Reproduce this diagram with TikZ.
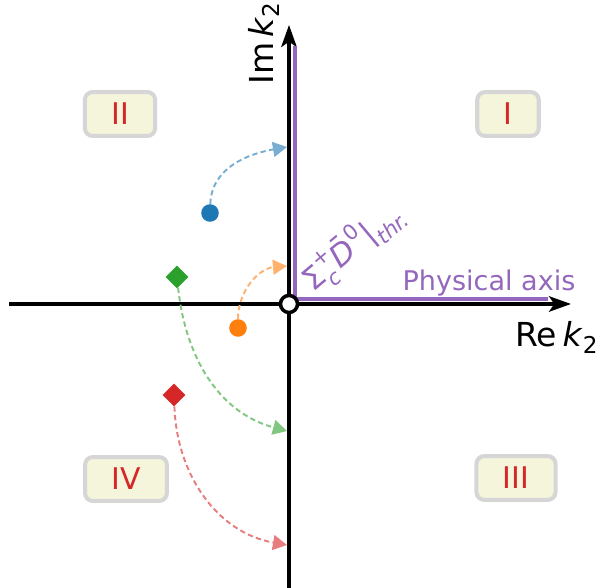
\documentclass[tikz,border=0pt]{standalone}
\usepackage{fontspec}
\setmainfont{DejaVu Sans}
\usetikzlibrary{arrows.meta, shapes.geometric}
\definecolor{cblue}{HTML}{1F77B4}
\definecolor{corange}{HTML}{FF7F0E}
\definecolor{cgreen}{HTML}{2CA02C}
\definecolor{cred}{HTML}{D62728}
\definecolor{cpurple}{HTML}{9467BD}
\definecolor{boxfill}{HTML}{F5F5DC}
\definecolor{boxedge}{HTML}{D6D6D6}
\newcommand{\axlw}{2pt}
\newcommand{\bigfont}{\fontsize{18.8}{22}\selectfont}
\newcommand{\midfont}{\fontsize{15.4}{18}\selectfont}
\newcommand{\tsup}[1]{\raisebox{0.48em}{\fontsize{12}{13}\selectfont #1}}
\newcommand{\tsub}[1]{\raisebox{-0.3em}{\fontsize{12}{13}\selectfont #1}}
\tikzset{
  axisline/.style={line width=\axlw,
    -{Stealth[length=12.5pt, width=8.8pt, inset=3pt]}},
  physline/.style={cpurple, line width=2pt},
  region/.style={
    draw=boxedge, fill=boxfill, line width=2.3pt, rounded corners=4.5pt,
    text=cred, font=\fontsize{17}{20}\selectfont,
    inner xsep=15pt, inner ysep=2pt, minimum height=25pt
  },
  dot/.style={circle, fill=#1, inner sep=0pt, minimum size=10pt},
  gem/.style={diamond, fill=#1, inner sep=0pt, minimum size=13pt},
  flow/.style={
    #1!60, line width=1.1pt, dash pattern=on 3pt off 1.9pt,
    -{Triangle[length=8pt, width=8.5pt]}
  }
}

\begin{document}
\begin{tikzpicture}[x=0.02cm, y=0.02cm]
  \useasboundingbox (0,0) rectangle (600,588);
  % axes
  \coordinate (west) at (9,284);
  \coordinate (east) at (571,284);
  \coordinate (south) at (289,0);
  \coordinate (north) at (289,563);
  \draw[axisline] (west) -- (east);
  \draw[axisline] (south) -- (north);
  % physical sheet boundary
  \coordinate (ptop) at (295,542);
  \coordinate (pcorner) at (295,289);
  \coordinate (pend) at (548,289);
  \draw[physline] (ptop) -- (pcorner) -- (pend);
  \node[circle, draw, fill=white, line width=\axlw, inner sep=0pt,
        minimum size=9.7pt] (orig) at (289,284) {};
  % labels
  \node[anchor=base west, inner sep=0pt, font=\bigfont] (relab) at (515,241)
    {Re\,\textit{k}\textsubscript{2}};
  \node[anchor=base west, inner sep=0pt, rotate=90, font=\bigfont] (imlab)
    at (273,503) {Im\,\textit{k}\textsubscript{2}};
  \node[anchor=base, inner sep=0pt, text=cpurple, font=\midfont] (physlab)
    at (489,297) {Physical axis};
  \node[anchor=base west, inner sep=0pt, rotate=40, text=cpurple,
        font=\fontsize{17.5}{20}\selectfont] (thrlab) at (313,295)
    {Σ\rlap{\tsup{+}}\tsub{\itshape c}\,\textit{D̄}\tsup{0}|\tsub{\itshape thr.}};
  % sheets
  \foreach \lab/\x/\y in {I/508/474, II/120/474, III/516/110, IV/126/109}
    \node[region] (reg\lab) at (\x,\y) {\lab};
  % poles and their images on the axis
  \node[dot=cblue] (pblue) at (210,375) {};
  \node[dot=corange] (porange) at (238,260) {};
  \node[gem=cgreen] (pgreen) at (177,311) {};
  \node[gem=cred] (pred) at (174,193) {};
  \coordinate (hblue) at (287,441);
  \coordinate (horange) at (287,322);
  \coordinate (hgreen) at (287,157);
  \coordinate (hred) at (287,43);
  \draw[flow=cblue] (pblue) to[out=88, in=190] (hblue);
  \draw[flow=corange] (porange) to[out=90, in=185] (horange);
  \draw[flow=cgreen] (pgreen) to[out=-84, in=165] (hgreen);
  \draw[flow=cred] (pred) to[out=-88, in=170] (hred);
\end{tikzpicture}
\end{document}
